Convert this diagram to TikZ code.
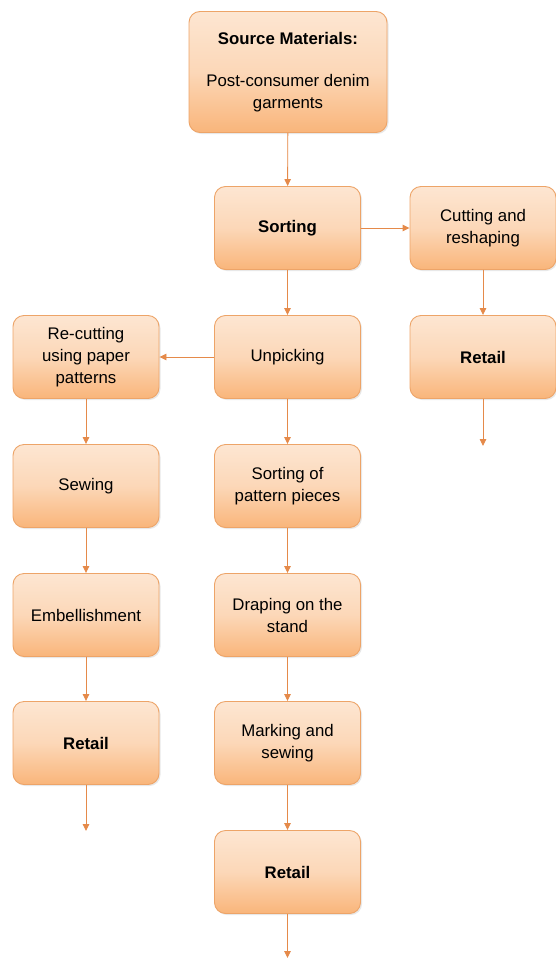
\documentclass[tikz,border=0pt]{standalone}
\usepackage{fontspec}
\setmainfont{Liberation Sans}
\usepackage{xcolor}
\usetikzlibrary{arrows.meta,shadows}
\definecolor{boxtop}{HTML}{FDE6D2}
\definecolor{boxbot}{HTML}{F9B57A}
\definecolor{boxline}{HTML}{EDA468}
\definecolor{flowline}{HTML}{E58A4A}

\begin{document}
\begin{tikzpicture}[
  x=1pt, y=-1pt,
  font=\fontsize{16.8}{22}\selectfont,
  >={Triangle[width=6.5pt,length=7pt]},
  box/.style={draw=boxline, line width=0.9pt, rounded corners=11pt, align=center,
    top color=boxtop, bottom color=boxbot, middle color=boxtop!70!boxbot,
    minimum width=146pt, minimum height=83pt, inner sep=2pt,
    drop shadow={opacity=0.18, shadow xshift=1.5pt, shadow yshift=-1.5pt}},
  srcbox/.style={box, minimum width=198pt, minimum height=121pt},
  flow/.style={->, draw=flowline, fill=flowline, line width=0.9pt}
]
\useasboundingbox (0,0) rectangle (555,958);

% top of the chart
\node[srcbox] (source) at (288,72)
  {\textbf{Source Materials:}\\[20pt]Post-consumer denim\\garments};
\node[box] (sorting) at (287.5,228) {\textbf{Sorting}};
\node[box] (cutting) at (483,228) {Cutting and\\reshaping};
\node[box] (retailR) at (483,357) {\textbf{Retail}};

% middle column
\node[box] (unpick) at (287.5,357) {Unpicking};
\node[box] (pieces) at (287.5,486) {Sorting of\\pattern pieces};
\node[box] (drape) at (287.5,615) {Draping on the\\stand};
\node[box] (mark) at (287.5,743) {Marking and\\sewing};
\node[box] (retailM) at (287.5,872) {\textbf{Retail}};

% left column
\node[box] (recut) at (86,357) {Re-cutting\\using paper\\patterns};
\node[box] (sewing) at (86,486) {Sewing};
\node[box] (embel) at (86,615) {Embellishment};
\node[box] (retailL) at (86,743) {\textbf{Retail}};

\coordinate (outR) at (483,446);
\coordinate (outM) at (287.5,958);
\coordinate (outL) at (86,831);

\draw[flow] (source) -- (sorting);
\draw[flow] (sorting) -- (cutting);
\draw[flow] (cutting) -- (retailR);
\draw[flow] (retailR) -- (outR);
\draw[flow] (sorting) -- (unpick);
\draw[flow] (unpick) -- (recut);
\draw[flow] (unpick) -- (pieces);
\draw[flow] (pieces) -- (drape);
\draw[flow] (drape) -- (mark);
\draw[flow] (mark) -- (retailM);
\draw[flow] (retailM) -- (outM);
\draw[flow] (recut) -- (sewing);
\draw[flow] (sewing) -- (embel);
\draw[flow] (embel) -- (retailL);
\draw[flow] (retailL) -- (outL);
\end{tikzpicture}
\end{document}
